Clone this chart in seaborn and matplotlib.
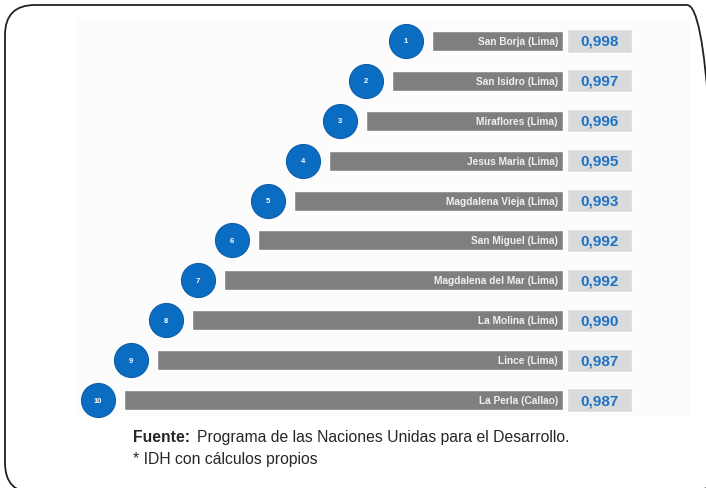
"""
Ranking IDH distritos (Lima / Callao) - barras decorativas + valores
"""
import matplotlib
matplotlib.use("Agg")
import matplotlib.pyplot as plt
import seaborn as sns
import pandas as pd
from matplotlib.patches import FancyBboxPatch, Rectangle

# ── Datos ───────────────────────────────────────────────────────────────────
distritos = ["San Borja (Lima)", "San Isidro (Lima)", "Miraflores (Lima)",
             "Jesus Maria (Lima)", "Magdalena Vieja (Lima)", "San Miguel (Lima)",
             "Magdalena del Mar (Lima)", "La Molina (Lima)", "Lince (Lima)",
             "La Perla (Callao)"]
rango = [1, 2, 3, 4, 5, 6, 7, 8, 9, 10]
idh = [0.998, 0.997, 0.996, 0.995, 0.993, 0.992, 0.992, 0.990, 0.987, 0.987]
# longitud visual de cada barra (decorativa)
largo = [131, 171, 197, 234, 269, 305, 339, 371, 406, 439]

df = pd.DataFrame({"distrito": distritos, "rango": rango, "idh": idh, "largo": largo})

sns.set_theme(style="white")
plt.rcParams["font.family"] = ["Liberation Sans", "DejaVu Sans"]

W, H = 706, 489
fig = plt.figure(figsize=(W / 100, H / 100), dpi=100)

# capa de fondo en píxeles (marco redondeado + fuente), y hacia arriba
bg = fig.add_axes([0, 0, 1, 1], zorder=0)
bg.set_xlim(0, W)
bg.set_ylim(0, H)
bg.axis("off")
bg.add_patch(FancyBboxPatch((5, H - 494), 712, 488, boxstyle="round,pad=0,rounding_size=30",
                            fc="none", ec="#222222", lw=1.3, clip_on=False))
# panel muy tenue de la imagen original
bg.add_patch(Rectangle((75, H - 417), 615, 397, fc="#fcfcfc", ec="none"))

# ── Barras ──────────────────────────────────────────────────────────────────
ax = fig.add_axes([60 / W, 1 - 421 / H, 580 / W, 399 / H], zorder=1)
ax.patch.set_alpha(0)
sns.barplot(data=df, x="largo", y="distrito", orient="h", color="#7f7f7f",
            saturation=1, width=0.5, ax=ax)
ax.set_xlim(503, -77)
ax.set_ylim(9.5, -0.5)

# cajas de valor
ax.barh(range(len(df)), -65, left=-4, height=0.58, color="#d9dadb", zorder=1)

# círculos con el rango
sns.scatterplot(x=df["largo"] + 26, y=range(len(df)), s=600, color="#0a6dc2",
                edgecolor="#0a5eab", linewidth=0.8, ax=ax, zorder=3, legend=False)

for i, row in df.iterrows():
    ax.text(row["largo"] + 26, i, str(row["rango"]), ha="center", va="center",
            color="white", fontsize=5.5, fontweight="bold", zorder=4)
    ax.text(5, i, row["distrito"], ha="right", va="center", color="#f0f0f0",
            fontsize=7.3, fontweight="bold", zorder=4)
    ax.text(-36.5, i, f"{row['idh']:.3f}".replace(".", ","), ha="center", va="center",
            color="#1c72c4", fontsize=11, fontweight="bold", zorder=4)

ax.set_xlabel("")
ax.set_ylabel("")
ax.set_xticks([])
ax.set_yticks([])
sns.despine(ax=ax, left=True, bottom=True)

# ── Fuente ──────────────────────────────────────────────────────────────────
fs = 11.3
t1 = bg.text(133, H - 438, "Fuente:", ha="left", va="center", fontsize=fs,
             fontweight="bold")
r = fig.canvas.get_renderer()
x2 = t1.get_window_extent(renderer=r).x1 + 7
bg.text(x2, H - 438, "Programa de las Naciones Unidas para el Desarrollo.", ha="left",
        va="center", fontsize=fs)
bg.text(133, H - 460, "* IDH con cálculos propios", ha="left", va="center",
        fontsize=fs)

fig.savefig("out.png", dpi=100)
plt.close()
